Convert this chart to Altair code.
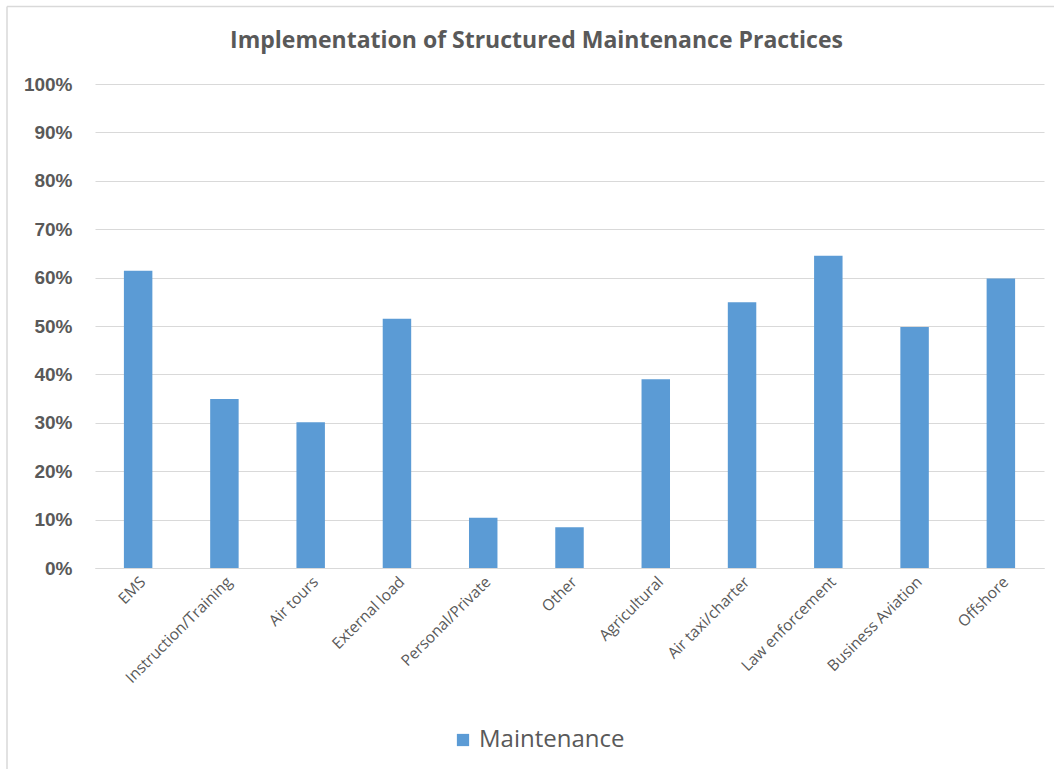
import altair as alt
import pandas as pd

categories = ["EMS", "Instruction/Training", "Air tours", "External load",
              "Personal/Private", "Other", "Agricultural", "Air taxi/charter",
              "Law enforcement", "Business Aviation", "Offshore"]
values_pct = [61.4, 34.9, 30.1, 51.5, 10.4, 8.4, 39.0, 54.9, 64.5, 49.8, 59.8]
series_name = "Maintenance"
y_ticks = [0, 0.1, 0.2, 0.3, 0.4, 0.5, 0.6, 0.7, 0.8, 0.9, 1.0]

df = pd.DataFrame({
    "category": categories,
    "value": [v / 100 for v in values_pct],
    "series": [series_name] * len(categories),
})

GRAY = "#595959"
BLUE = "#5b9bd5"
FRAME = "#d9d9d9"

bars = alt.Chart(df).mark_bar().encode(
    x=alt.X("category:N", sort=categories,
            scale=alt.Scale(paddingInner=0.67, paddingOuter=0.335),
            axis=alt.Axis(title=None, labelAngle=-45, labelFont="Open Sans",
                          labelFontSize=15.5, labelColor=GRAY, ticks=False,
                          labelPadding=6, domainColor="#d9d9d9", grid=False)),
    y=alt.Y("value:Q", scale=alt.Scale(domain=[0, 1]),
            axis=alt.Axis(title=None, format=".0%", values=y_ticks,
                          labelFont="Liberation Sans", labelFontWeight="bold",
                          labelFontSize=19, labelColor=GRAY, ticks=False,
                          domain=False, labelPadding=23, gridColor="#d9d9d9")),
    color=alt.Color("series:N", scale=alt.Scale(range=[BLUE]),
                    legend=alt.Legend(title=None, orient="none", legendX=356,
                                      legendY=644, symbolType="square",
                                      symbolSize=150, symbolStrokeWidth=0,
                                      labelFont="Open Sans", labelFontSize=24,
                                      labelColor=GRAY)),
)

# chart-area frame (decoration, like the spreadsheet chart border)
frame_src = pd.DataFrame({"k": [0]})
frame_left = alt.Chart(frame_src).mark_rule(color=FRAME, strokeWidth=1.5).encode(
    x=alt.value(-88), y=alt.value(-77.5), y2=alt.value(700))
frame_top = alt.Chart(frame_src).mark_rule(color=FRAME, strokeWidth=1.5).encode(
    x=alt.value(-88), x2=alt.value(970), y=alt.value(-77.5))

chart = alt.layer(bars, frame_left, frame_top).properties(
    width=949, height=484,
    title=alt.TitleParams("Implementation of Structured Maintenance Practices",
                          font="Open Sans", fontSize=23, fontWeight="bold",
                          color=GRAY, anchor="middle", offset=-47, dx=-33),
    autosize=alt.AutoSizeParams(type="none"),
    padding={"left": 95, "top": 84, "right": 10, "bottom": 201},
).configure(background="white").configure_view(stroke=None)

chart.save("out.html", embed_options={"renderer": "svg", "actions": False})
